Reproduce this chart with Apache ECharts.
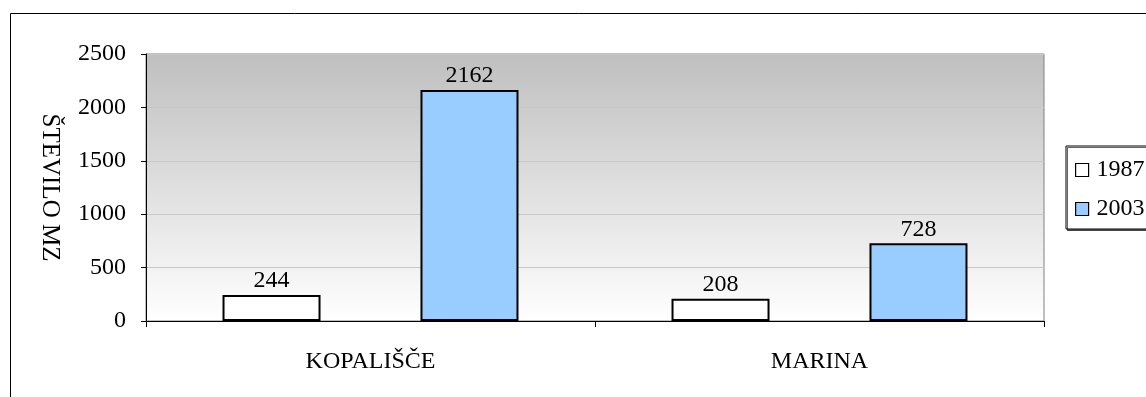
<!DOCTYPE html>
<html>
<head>
<meta charset="utf-8">
<script src="https://cdn.jsdelivr.net/npm/echarts@6/dist/echarts.min.js"></script>
<style>
  html, body { margin: 0; padding: 0; background: #fff; }
  #chart { width: 1146px; height: 397px; }
</style>
</head>
<body>
<div id="chart"></div>
<script>
// Number of MZ per location, 1987 vs 2003
const categories = ['KOPALIŠČE', 'MARINA'];
const seriesNames = ['1987', '2003'];
const values1987 = [244, 208];
const values2003 = [2162, 728];
const yTicks = [0, 500, 1000, 1500, 2000, 2500];

const FONT = 'Liberation Serif';
const FS = 24;
const chart = echarts.init(document.getElementById('chart'), null, { renderer: 'canvas' });

const barStyle = (fill) => ({ color: fill, borderColor: '#000', borderWidth: 2 });
const labelStyle = { show: true, position: 'top', distance: 2, color: '#000', fontFamily: FONT, fontSize: FS };

chart.setOption({
  animation: false,
  backgroundColor: '#fff',
  textStyle: { fontFamily: FONT },
  graphic: [{
    type: 'rect',
    shape: { x: 10.5, y: 13.5, width: 1300, height: 600 },
    style: { fill: 'none', stroke: '#000', lineWidth: 1 },
    z: -10
  }],
  legend: {
    orient: 'vertical',
    left: 1066,
    top: 146,
    itemWidth: 13,
    itemHeight: 13,
    itemGap: 15,
    padding: [12, 40, 8, 9],
    borderColor: '#000',
    borderWidth: 1,
    backgroundColor: '#fff',
    shadowColor: 'rgba(0,0,0,0.6)',
    shadowOffsetX: 1.5,
    shadowOffsetY: 1.5,
    shadowBlur: 0,
    textStyle: { fontFamily: FONT, fontSize: FS, color: '#000', padding: [0, 0, 0, 3] },
    itemStyle: { borderColor: '#000', borderWidth: 1.2 },
    data: seriesNames.map(n => ({ name: n, icon: 'rect' }))
  },
  grid: {
    left: 146, right: 102, top: 54, bottom: 76,
    show: true,
    borderColor: '#808080',
    borderWidth: 1,
    backgroundColor: {
      type: 'linear', x: 0, y: 0, x2: 0, y2: 1,
      colorStops: [
        { offset: 0, color: '#bfbfbf' },
        { offset: 1, color: '#ffffff' }
      ]
    }
  },
  xAxis: {
    type: 'category',
    data: categories,
    axisLine: { lineStyle: { color: '#000', width: 1 } },
    axisTick: { show: true, length: 6, lineStyle: { color: '#000' } },
    axisLabel: { color: '#000', fontFamily: FONT, fontSize: FS, margin: 29 },
    splitLine: { show: false }
  },
  yAxis: {
    type: 'value',
    min: yTicks[0],
    max: yTicks[yTicks.length - 1],
    interval: yTicks[1] - yTicks[0],
    name: 'ŠTEVILO MZ',
    nameLocation: 'middle',
    nameRotate: -90,
    nameGap: 84,
    nameTextStyle: { color: '#000', fontFamily: FONT, fontSize: 25 },
    axisLine: { show: true, lineStyle: { color: '#000', width: 1 } },
    axisTick: { show: true, length: 5, lineStyle: { color: '#000' } },
    axisLabel: { color: '#000', fontFamily: FONT, fontSize: FS, margin: 20, formatter: (v) => String(v) },
    splitLine: { show: true, lineStyle: { color: '#c8c8c8', width: 1 } }
  },
  series: [
    {
      name: seriesNames[0], type: 'bar', data: values1987,
      barWidth: 98, barGap: '102%',
      itemStyle: barStyle('#ffffff'),
      label: labelStyle
    },
    {
      name: seriesNames[1], type: 'bar', data: values2003,
      barWidth: 98,
      itemStyle: barStyle('#99ccff'),
      label: labelStyle
    }
  ]
});
</script>
</body>
</html>
